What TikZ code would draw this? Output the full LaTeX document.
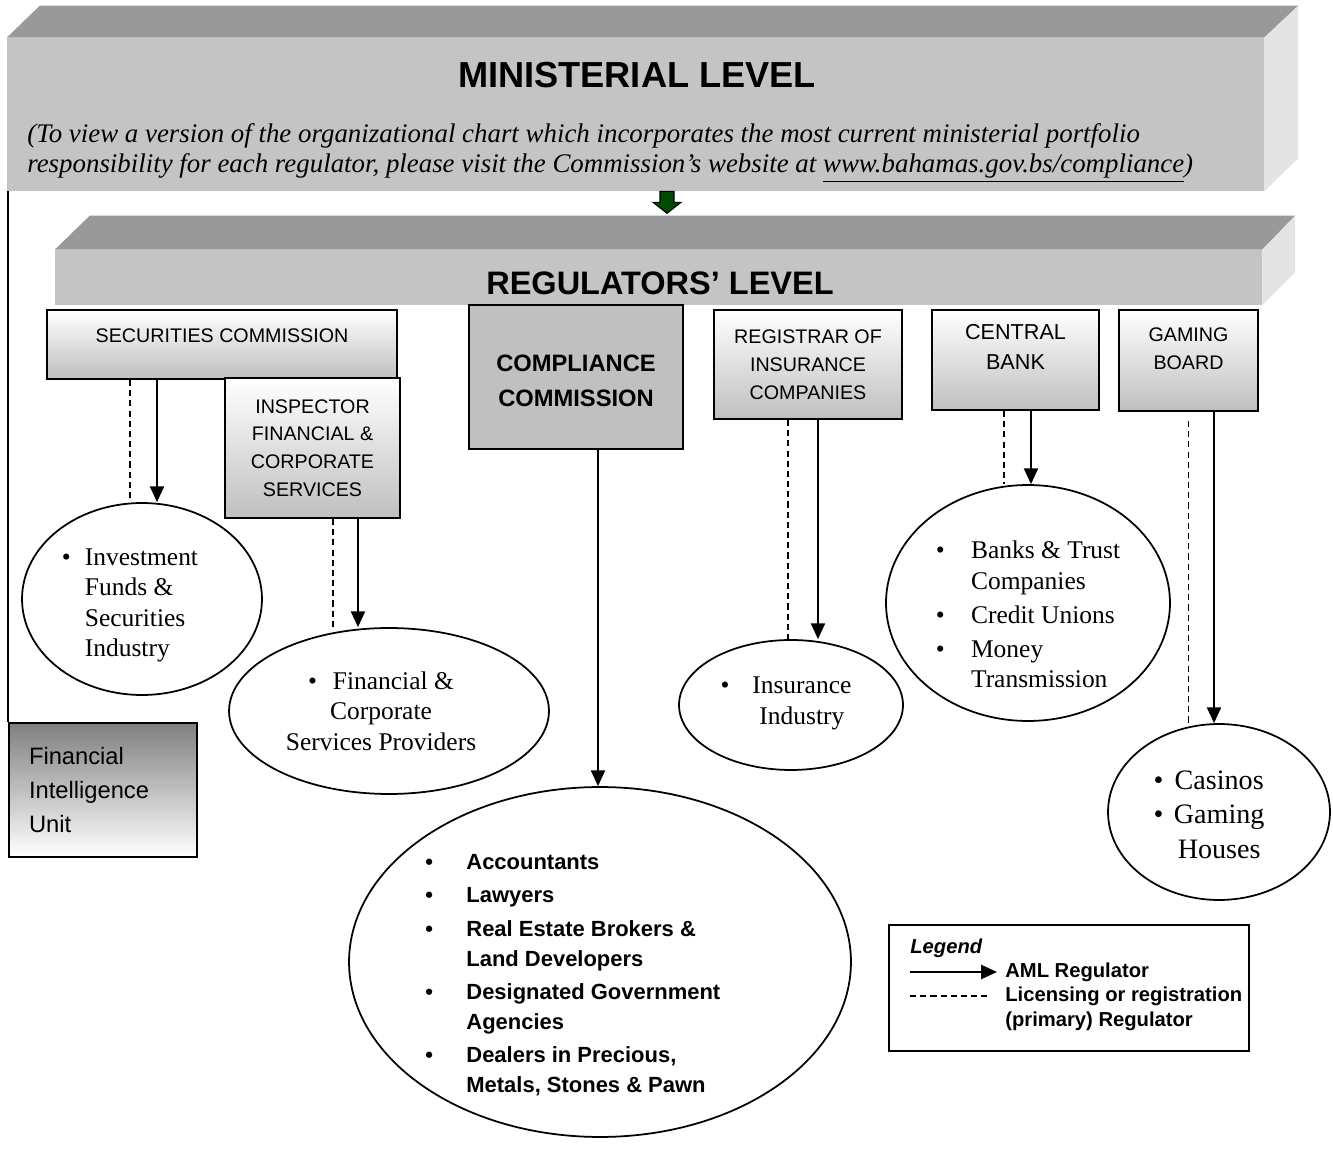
\documentclass[tikz,border=0pt]{standalone}
\usepackage{fontspec}
\setmainfont{Liberation Serif}
\setsansfont{Liberation Sans}
\usetikzlibrary{arrows.meta,shapes.geometric}

\definecolor{frontgray}{HTML}{C4C4C4}
\definecolor{topgray}{HTML}{999999}
\definecolor{sidegray}{HTML}{E4E4E4}
\definecolor{ccgray}{HTML}{C0C0C0}
\definecolor{arrowgreen}{HTML}{004B00}

\tikzset{
  banner/.style={fill=frontgray, inner sep=0pt},
  bannertitle/.style={font=\sffamily\bfseries\fontsize{20.6}{24}\selectfont},
  regbox/.style={draw=black, line width=1.1pt, top color=white, bottom color=gray!50,
    align=center, inner sep=0pt, font=\sffamily\fontsize{11.2}{15.8}\selectfont},
  entity/.style={ellipse, draw=black, line width=1pt, inner sep=0pt},
  sectortext/.style={inner sep=0pt, font=\fontsize{14.5}{17.4}\selectfont},
  aml/.style={line width=1.1pt, -{Triangle[width=8pt,length=9pt]}},
  licence/.style={line width=0.9pt, dash pattern=on 3.5pt off 2.3pt},
}

\begin{document}
\begin{tikzpicture}[x=0.02cm, y=-0.02cm]
\useasboundingbox (0,0) rectangle (1333,1165);

% ministerial level
\node[banner, minimum width=25.14cm, minimum height=3.06cm] (min) at (635.5,114.5) {};
\fill[topgray] (min.north west) -- ++(33,-32) -- ([shift={(34,-32)}]min.north east) -- (min.north east) -- cycle;
\fill[sidegray] (min.north east) -- ++(34,-32) -- ([shift={(34,-33)}]min.south east) -- (min.south east) -- cycle;
\node[bannertitle] (mintitle) at (637,75) {MINISTERIAL LEVEL};
\node[anchor=west, align=left, inner sep=0pt, font=\itshape\fontsize{15.3}{17}\selectfont] (note) at (27,153)
  {(To view a version of the organizational chart which incorporates the most current ministerial portfolio\\
   responsibility for each regulator, please visit the Commission’s website at \underline{www.bahamas.gov.bs/compliance})};

% regulators level
\node[banner, minimum width=24.14cm, minimum height=1.1cm] (regl) at (658.5,277.5) {};
\fill[topgray] (regl.north west) -- ++(35,-34) -- ([shift={(33,-34)}]regl.north east) -- (regl.north east) -- cycle;
\fill[sidegray] (regl.north east) -- ++(33,-34) -- ([shift={(33,-33)}]regl.south east) -- (regl.south east) -- cycle;
\node[bannertitle, font=\sffamily\bfseries\fontsize{18.5}{22}\selectfont] (regtitle) at (660,283) {REGULATORS’ LEVEL};

% green arrow
\coordinate (g) at (min.south -| 667,0);
\filldraw[fill=arrowgreen, draw=black, line width=0.6pt] (g) ++(-7,0) -- ++(0,11) -- ++(-7,0) -- ++(14,11) -- ++(14,-11) -- ++(-7,0) -- ++(0,-11) -- cycle;

% regulators
\node[regbox, minimum width=7cm, minimum height=1.38cm, text height=8pt, text depth=10.8pt] (sc) at (222,344.5) {SECURITIES COMMISSION};
\node[regbox, minimum width=3.5cm, minimum height=2.8cm] (insp) at (312.5,448) {INSPECTOR\\FINANCIAL \&\\CORPORATE\\SERVICES};
\node[draw=black, line width=1.1pt, fill=ccgray, minimum width=4.28cm, minimum height=2.88cm, align=center, text height=34pt,
  font=\sffamily\bfseries\fontsize{13.5}{19.8}\selectfont] (cc) at (576,377) {COMPLIANCE\\COMMISSION};
\node[regbox, minimum width=3.76cm, minimum height=2.18cm] (reg) at (808,364.5) {REGISTRAR OF\\INSURANCE\\COMPANIES};
\node[regbox, minimum width=3.34cm, minimum height=2cm, font=\sffamily\fontsize{12.3}{17}\selectfont, text depth=14.8pt] (cb) at (1015.5,360) {CENTRAL\\BANK};
\node[regbox, minimum width=2.78cm, minimum height=2.02cm, text depth=13.6pt] (gb) at (1188.5,360.5) {GAMING\\BOARD};

% financial intelligence unit
\node[draw=black, line width=1.1pt, top color=gray, bottom color=white, minimum width=3.76cm, minimum height=2.68cm,
  text width=2.96cm, align=left, inner sep=0pt, font=\sffamily\fontsize{13.5}{19.2}\selectfont] (fiu) at (103,790) {Financial\\Intelligence\\Unit};
\draw[line width=1.1pt] (fiu.north west) -- (fiu.north west |- min.south);

% regulated sectors
\node[entity, minimum width=4.8cm, minimum height=3.84cm] (ifund) at (142,599) {};
\node[sectortext] (ifundlist) at ([shift={(-12,6)}]ifund.center)
  {\begin{tabular}{@{}l@{\hspace{8pt}}l@{}}\textbullet & Investment\\ & Funds \&\\ & Securities\\ & Industry\end{tabular}};

\node[entity, minimum width=6.4cm, minimum height=3.32cm] (fcsp) at (389,711) {};
\node[sectortext, align=center] (fcsplist) at ([shift={(-8,0)}]fcsp.center)
  {\textbullet\hspace{9pt}Financial \&\\Corporate\\Services Providers};

\node[entity, minimum width=10.04cm, minimum height=7cm] (dnfbp) at (600,962) {};
\node[anchor=west, inner sep=0pt, font=\sffamily\bfseries\fontsize{12.5}{17}\selectfont] (dnfbplist) at (425,975)
  {\begin{tabular}{@{}l@{\hspace{19pt}}l@{}}
   \textbullet & Accountants\\[2pt]
   \textbullet & Lawyers\\[2pt]
   \textbullet & Real Estate Brokers \&\\ & Land Developers\\[2pt]
   \textbullet & Designated Government\\ & Agencies\\[2pt]
   \textbullet & Dealers in Precious,\\ & Metals, Stones \& Pawn
   \end{tabular}};

\node[entity, minimum width=4.48cm, minimum height=2.6cm] (ins) at (791,705) {};
\node[sectortext] (inslist) at ([shift={(-5,-2)}]ins.center)
  {\begin{tabular}{@{}c@{\hspace{13pt}}c@{}}\textbullet & Insurance\\ & Industry\end{tabular}};

\node[entity, minimum width=5.68cm, minimum height=4.72cm] (banks) at (1028,603) {};
\node[sectortext] (bankslist) at ([shift={(0,14)}]banks.center)
  {\begin{tabular}{@{}l@{\hspace{15pt}}l@{}}
   \textbullet & Banks \& Trust\\ & Companies\\[2pt]
   \textbullet & Credit Unions\\[2pt]
   \textbullet & Money\\ & Transmission
   \end{tabular}};

\node[entity, minimum width=4.44cm, minimum height=3.52cm] (casino) at (1219,812) {};
\node[sectortext, font=\fontsize{16}{19.8}\selectfont] (casinolist) at ([shift={(-10,5)}]casino.center)
  {\begin{tabular}{@{}c@{\hspace{6pt}}c@{}}\textbullet & Casinos\\ \textbullet & Gaming\\ & Houses\end{tabular}};

% supervision lines
\draw[licence] ([xshift=-1.84cm]sc.south) -- ([xshift=-1.84cm]sc.south |- ifund.north);
\draw[aml] ([xshift=-1.3cm]sc.south) -- ([xshift=-1.3cm]sc.south |- ifund.north);
\draw[licence] ([xshift=0.41cm]insp.south) -- ([xshift=0.41cm]insp.south |- fcsp.north);
\draw[aml] ([xshift=0.91cm]insp.south) -- ([xshift=0.91cm]insp.south |- fcsp.north);
\draw[aml] ([xshift=0.44cm]cc.south) -- ([xshift=0.44cm]cc.south |- dnfbp.north);
\draw[licence] ([xshift=-0.4cm]reg.south) -- ([xshift=-0.4cm]reg.south |- ins.north);
\draw[aml] ([xshift=0.2cm]reg.south) -- ([xshift=0.2cm]reg.south |- ins.north);
\draw[licence] ([xshift=-0.23cm]cb.south) -- ([xshift=-0.23cm]cb.south |- banks.north);
\draw[aml] ([xshift=0.31cm]cb.south) -- ([xshift=0.31cm]cb.south |- banks.north);
\draw[licence] ([yshift=-0.18cm]gb.south) -- (gb.south |- casino.north);
\draw[aml] ([xshift=0.51cm]gb.south) -- ([xshift=0.51cm]gb.south |- casino.north);

% legend
\node[draw=black, line width=1pt, minimum width=7.2cm, minimum height=2.52cm] (legend) at (1069,988) {};
\node[anchor=west, inner sep=0pt, font=\sffamily\bfseries\itshape\fontsize{11.5}{14}\selectfont] (legtitle) at (910,948) {Legend};
\coordinate (amla) at (910,972);
\coordinate (amlb) at (997,972);
\coordinate (lica) at (910,996);
\coordinate (licb) at (990,996);
\draw[aml] (amla) -- (amlb);
\draw[licence, line width=0.7pt] (lica) -- (licb);
\node[anchor=west, inner sep=0pt, font=\sffamily\bfseries\fontsize{11.5}{14.2}\selectfont] (amltext) at (1005,972) {AML Regulator};
\node[anchor=west, inner sep=0pt, align=left, font=\sffamily\bfseries\fontsize{11.5}{14.2}\selectfont] (lictext) at (1005,1009)
  {Licensing or registration\\(primary) Regulator};
\end{tikzpicture}
\end{document}
